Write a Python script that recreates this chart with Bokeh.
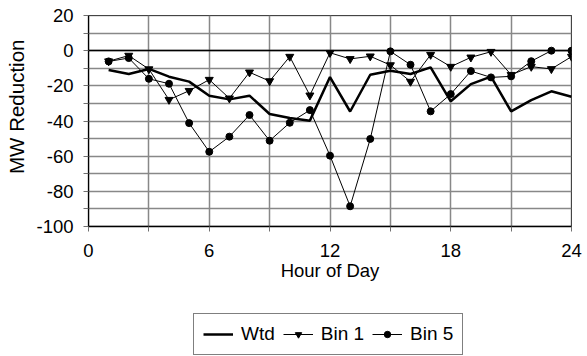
from bokeh.plotting import figure
from bokeh.layouts import column
from bokeh.models import FixedTicker, Legend, LegendItem, Range1d
from bokeh.embed import file_html
from bokeh.resources import INLINE

hours = list(range(1, 25))
wtd = [-11, -13.3, -10.4, -14.8, -17.6, -25.6, -27.7, -25.6, -36, -38.3, -39.8, -15,
       -34.6, -13.7, -11.4, -13.3, -9.5, -28.8, -19, -14.8, -34.5, -28.1, -23.1, -26.2]
bin1 = [-6, -2.8, -10.5, -27.9, -22.8, -16.5, -27.1, -12.3, -17.3, -3.4, -25.4, -1.2,
        -4.7, -3.2, -8.2, -17.6, -2.3, -9.1, -3.8, -0.6, -13.7, -9.1, -10.4, -3.4]
bin5 = [-6.1, -4.2, -16, -18.8, -41.2, -57.5, -48.9, -36.6, -51.2, -41, -33.8, -59.7,
        -88.5, -50.2, -0.4, -8, -34.5, -24.7, -11.6, -15.2, -14.6, -6, 0, 0]
series_names = ["Wtd", "Bin 1", "Bin 5"]

x_ticks = [0, 6, 12, 18, 24]
x_minor = [3, 9, 15, 21]
y_ticks = [-100, -80, -60, -40, -20, 0, 20]
y_minor = [-90, -70, -50, -30, -10, 10]

FONT = "Liberation Sans"
FS = "18.5px"
GRID = "#888888"

p = figure(frame_width=483, frame_height=211, output_backend="svg", toolbar_location=None,
           x_range=Range1d(0, 24), y_range=Range1d(-100, 20),
           min_border_left=88, min_border_right=16, min_border_top=15, min_border_bottom=74)
p.background_fill_color = "white"
p.border_fill_color = "white"
p.outline_line_color = "black"
p.outline_line_width = 1
p.xgrid.visible = False
p.ygrid.visible = False

# grid lines at the tick values, drawn first so they sit under the data
p.vspan(x=x_ticks + x_minor, line_color=GRID, line_width=1.5)
p.hspan(y=y_ticks + y_minor, line_color=GRID, line_width=1.5)
p.hspan(y=[0], line_color="black", line_width=1.5)

# axes
p.xaxis.ticker = FixedTicker(ticks=x_ticks, minor_ticks=x_minor)
p.yaxis.ticker = FixedTicker(ticks=y_ticks, minor_ticks=y_minor)
p.yaxis.major_label_overrides = {v: str(v) for v in y_ticks}
for ax in (p.xaxis, p.yaxis):
    ax.axis_line_color = "black"
    ax.axis_line_width = 1.3
    ax.major_tick_line_color = "#707070"
    ax.minor_tick_line_color = "#707070"
    ax.major_tick_out = 5
    ax.major_tick_in = 0
    ax.minor_tick_out = 5
    ax.minor_tick_in = 0
    ax.major_label_text_font = FONT
    ax.major_label_text_font_size = FS
    ax.major_label_text_color = "black"
    ax.axis_label_text_font = FONT
    ax.axis_label_text_font_style = "normal"
    ax.axis_label_text_color = "black"
p.xaxis.axis_label = "Hour of Day"
p.yaxis.axis_label = "\u00a0\u00a0\u00a0\u00a0\u00a0MW Reduction"
p.xaxis.axis_label_text_font_size = FS
p.yaxis.axis_label_text_font_size = "20.5px"
p.xaxis.major_label_standoff = 12
p.xaxis.axis_label_standoff = 0
p.yaxis.major_label_standoff = 10
p.yaxis.axis_label_standoff = 5

p.line(hours, wtd, line_color="black", line_width=2.5)
p.line(hours, bin1, line_color="black", line_width=1)
p.scatter(hours, bin1, marker="inverted_triangle", size=8, color="black")
p.line(hours, bin5, line_color="black", line_width=1)
p.scatter(hours, bin5, marker="circle", size=7, color="black")

# legend strip below the chart (its frame is aligned with the chart frame);
# the series here lie outside its ranges and only supply the legend icons
q = figure(width=587, height=56, output_backend="svg", toolbar_location=None,
           x_range=Range1d(100, 101), y_range=Range1d(100, 101), min_border=0)
q.axis.visible = False
q.grid.visible = False
q.outline_line_color = None
q.background_fill_color = "white"
q.border_fill_color = "white"

k_wtd = q.line(hours, wtd, line_color="black", line_width=2.5)
k_b1l = q.line(hours, bin1, line_color="black", line_width=1)
k_b1m = q.scatter(hours, bin1, marker="inverted_triangle", size=5, color="black")
k_b5l = q.line(hours, bin5, line_color="black", line_width=1)
k_b5m = q.scatter(hours, bin5, marker="circle", size=5, color="black")

legend = Legend(items=[
    LegendItem(label=series_names[0], renderers=[k_wtd]),
    LegendItem(label=series_names[1], renderers=[k_b1l, k_b1m]),
    LegendItem(label=series_names[2], renderers=[k_b5l, k_b5m]),
], orientation="horizontal", location=(105, 1))
legend.label_text_font = FONT
legend.label_text_font_size = "19px"
legend.label_text_color = "black"
legend.border_line_color = "black"
legend.border_line_width = 1.3
legend.background_fill_color = "white"
legend.background_fill_alpha = 1
legend.glyph_width = 30
legend.glyph_height = 16
legend.label_standoff = 8
legend.spacing = 8
legend.padding = 9
legend.margin = 0
q.add_layout(legend, "center")

layout = column(p, q, spacing=0)
open("out.html", "w").write(file_html(layout, INLINE))
